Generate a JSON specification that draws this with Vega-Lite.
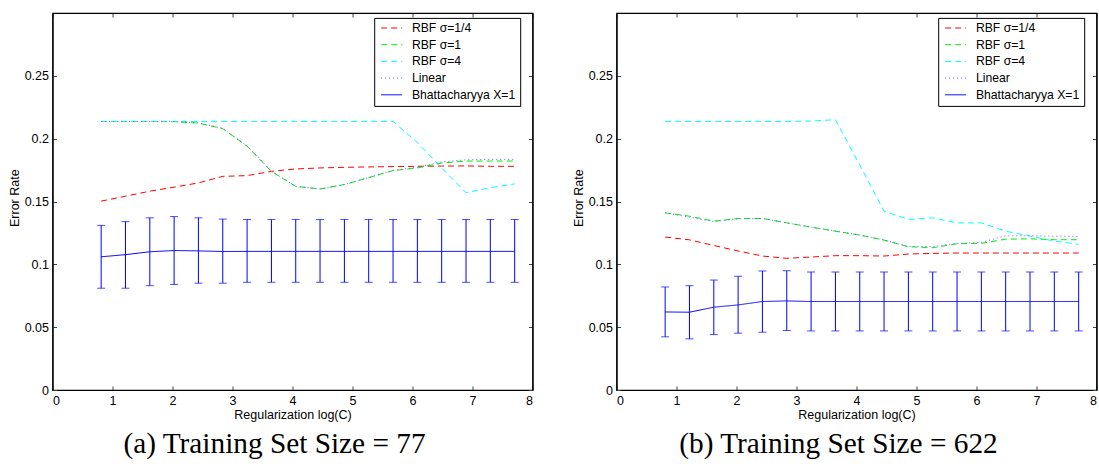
{
  "$schema": "https://vega.github.io/schema/vega-lite/v6.json",
  "padding": {"left": 7.5, "top": 11, "right": 0, "bottom": 0},
  "spacing": 37,
  "config": {
    "font": "Liberation Sans",
    "view": {"stroke": "black", "strokeWidth": 1.2},
    "axis": {
      "labelFont": "Liberation Sans", "labelFontSize": 12.5, "labelColor": "black",
      "titleFont": "Liberation Sans", "titleFontSize": 12.5, "titleFontWeight": "normal", "titleColor": "black",
      "domainColor": "black", "domainWidth": 1.2, "tickColor": "#444444", "tickSize": -4, "labelPadding": 8, "grid": false
    },
    "legend": {
      "title": null, "orient": "none", "legendX": 321.7, "legendY": 4.9,
      "symbolType": "M-0.6,0H3.4", "symbolSize": 110, "symbolStrokeWidth": 1,
      "labelFont": "Liberation Sans", "labelFontSize": 12.2, "labelColor": "black", "labelOffset": 21.5,
      "strokeColor": "black", "fillColor": "white", "padding": 4, "rowPadding": 3.7, "labelLimit": 300
    },
    "title": {"font": "Liberation Serif", "fontSize": 29.3, "fontWeight": "normal", "color": "black", "orient": "bottom", "anchor": "middle", "frame": "group", "dx": -18, "offset": 9}
  },
  "datasets": {
    "a": [
      {"x": 0.811, "RBF σ=1/4": 0.1503, "RBF σ=1": 0.2137, "RBF σ=4": 0.2137, "Linear": 0.2137, "Bhattacharyya X=1": 0.1060, "lo": 0.0810, "hi": 0.1310},
      {"x": 1.216, "RBF σ=1/4": 0.1542, "RBF σ=1": 0.2137, "RBF σ=4": 0.2137, "Linear": 0.2137, "Bhattacharyya X=1": 0.1077, "lo": 0.0810, "hi": 0.1340},
      {"x": 1.622, "RBF σ=1/4": 0.1582, "RBF σ=1": 0.2137, "RBF σ=4": 0.2137, "Linear": 0.2137, "Bhattacharyya X=1": 0.1100, "lo": 0.0830, "hi": 0.1370},
      {"x": 2.027, "RBF σ=1/4": 0.1614, "RBF σ=1": 0.2135, "RBF σ=4": 0.2137, "Linear": 0.2137, "Bhattacharyya X=1": 0.1110, "lo": 0.0840, "hi": 0.1380},
      {"x": 2.432, "RBF σ=1/4": 0.1648, "RBF σ=1": 0.2124, "RBF σ=4": 0.2137, "Linear": 0.2126, "Bhattacharyya X=1": 0.1107, "lo": 0.0850, "hi": 0.1370},
      {"x": 2.838, "RBF σ=1/4": 0.1700, "RBF σ=1": 0.2080, "RBF σ=4": 0.2137, "Linear": 0.2082, "Bhattacharyya X=1": 0.1102, "lo": 0.0850, "hi": 0.1360},
      {"x": 3.243, "RBF σ=1/4": 0.1706, "RBF σ=1": 0.1940, "RBF σ=4": 0.2137, "Linear": 0.1942, "Bhattacharyya X=1": 0.1103, "lo": 0.0857, "hi": 0.1357},
      {"x": 3.649, "RBF σ=1/4": 0.1740, "RBF σ=1": 0.1740, "RBF σ=4": 0.2137, "Linear": 0.1742, "Bhattacharyya X=1": 0.1103, "lo": 0.0857, "hi": 0.1357},
      {"x": 4.054, "RBF σ=1/4": 0.1759, "RBF σ=1": 0.1620, "RBF σ=4": 0.2137, "Linear": 0.1620, "Bhattacharyya X=1": 0.1103, "lo": 0.0857, "hi": 0.1357},
      {"x": 4.459, "RBF σ=1/4": 0.1767, "RBF σ=1": 0.1600, "RBF σ=4": 0.2137, "Linear": 0.1600, "Bhattacharyya X=1": 0.1103, "lo": 0.0857, "hi": 0.1357},
      {"x": 4.865, "RBF σ=1/4": 0.1772, "RBF σ=1": 0.1635, "RBF σ=4": 0.2137, "Linear": 0.1635, "Bhattacharyya X=1": 0.1103, "lo": 0.0857, "hi": 0.1357},
      {"x": 5.270, "RBF σ=1/4": 0.1775, "RBF σ=1": 0.1690, "RBF σ=4": 0.2137, "Linear": 0.1690, "Bhattacharyya X=1": 0.1103, "lo": 0.0857, "hi": 0.1357},
      {"x": 5.676, "RBF σ=1/4": 0.1778, "RBF σ=1": 0.1746, "RBF σ=4": 0.2137, "Linear": 0.1748, "Bhattacharyya X=1": 0.1103, "lo": 0.0857, "hi": 0.1357},
      {"x": 6.081, "RBF σ=1/4": 0.1780, "RBF σ=1": 0.1767, "RBF σ=4": 0.1970, "Linear": 0.1772, "Bhattacharyya X=1": 0.1103, "lo": 0.0857, "hi": 0.1357},
      {"x": 6.486, "RBF σ=1/4": 0.1782, "RBF σ=1": 0.1806, "RBF σ=4": 0.1767, "Linear": 0.1815, "Bhattacharyya X=1": 0.1103, "lo": 0.0857, "hi": 0.1357},
      {"x": 6.892, "RBF σ=1/4": 0.1783, "RBF σ=1": 0.1822, "RBF σ=4": 0.1570, "Linear": 0.1832, "Bhattacharyya X=1": 0.1103, "lo": 0.0857, "hi": 0.1357},
      {"x": 7.297, "RBF σ=1/4": 0.1780, "RBF σ=1": 0.1822, "RBF σ=4": 0.1610, "Linear": 0.1835, "Bhattacharyya X=1": 0.1103, "lo": 0.0857, "hi": 0.1357},
      {"x": 7.703, "RBF σ=1/4": 0.1780, "RBF σ=1": 0.1822, "RBF σ=4": 0.1640, "Linear": 0.1835, "Bhattacharyya X=1": 0.1103, "lo": 0.0857, "hi": 0.1357}
    ],
    "b": [
      {"x": 0.811, "RBF σ=1/4": 0.1217, "RBF σ=1": 0.1410, "RBF σ=4": 0.2137, "Linear": 0.1410, "Bhattacharyya X=1": 0.0621, "lo": 0.0423, "hi": 0.0820},
      {"x": 1.216, "RBF σ=1/4": 0.1195, "RBF σ=1": 0.1383, "RBF σ=4": 0.2137, "Linear": 0.1375, "Bhattacharyya X=1": 0.0619, "lo": 0.0407, "hi": 0.0830},
      {"x": 1.622, "RBF σ=1/4": 0.1150, "RBF σ=1": 0.1344, "RBF σ=4": 0.2137, "Linear": 0.1340, "Bhattacharyya X=1": 0.0659, "lo": 0.0441, "hi": 0.0875},
      {"x": 2.027, "RBF σ=1/4": 0.1106, "RBF σ=1": 0.1365, "RBF σ=4": 0.2137, "Linear": 0.1362, "Bhattacharyya X=1": 0.0677, "lo": 0.0452, "hi": 0.0905},
      {"x": 2.432, "RBF σ=1/4": 0.1066, "RBF σ=1": 0.1365, "RBF σ=4": 0.2137, "Linear": 0.1365, "Bhattacharyya X=1": 0.0704, "lo": 0.0460, "hi": 0.0947},
      {"x": 2.838, "RBF σ=1/4": 0.1048, "RBF σ=1": 0.1330, "RBF σ=4": 0.2137, "Linear": 0.1330, "Bhattacharyya X=1": 0.0709, "lo": 0.0473, "hi": 0.0949},
      {"x": 3.243, "RBF σ=1/4": 0.1058, "RBF σ=1": 0.1296, "RBF σ=4": 0.2140, "Linear": 0.1296, "Bhattacharyya X=1": 0.0704, "lo": 0.0470, "hi": 0.0939},
      {"x": 3.649, "RBF σ=1/4": 0.1069, "RBF σ=1": 0.1264, "RBF σ=4": 0.2151, "Linear": 0.1264, "Bhattacharyya X=1": 0.0704, "lo": 0.0470, "hi": 0.0939},
      {"x": 4.054, "RBF σ=1/4": 0.1069, "RBF σ=1": 0.1233, "RBF σ=4": 0.1790, "Linear": 0.1233, "Bhattacharyya X=1": 0.0704, "lo": 0.0470, "hi": 0.0939},
      {"x": 4.459, "RBF σ=1/4": 0.1066, "RBF σ=1": 0.1193, "RBF σ=4": 0.1423, "Linear": 0.1193, "Bhattacharyya X=1": 0.0704, "lo": 0.0470, "hi": 0.0939},
      {"x": 4.865, "RBF σ=1/4": 0.1082, "RBF σ=1": 0.1140, "RBF σ=4": 0.1357, "Linear": 0.1142, "Bhattacharyya X=1": 0.0704, "lo": 0.0470, "hi": 0.0939},
      {"x": 5.270, "RBF σ=1/4": 0.1087, "RBF σ=1": 0.1132, "RBF σ=4": 0.1370, "Linear": 0.1142, "Bhattacharyya X=1": 0.0704, "lo": 0.0470, "hi": 0.0939},
      {"x": 5.676, "RBF σ=1/4": 0.1090, "RBF σ=1": 0.1164, "RBF σ=4": 0.1330, "Linear": 0.1166, "Bhattacharyya X=1": 0.0704, "lo": 0.0470, "hi": 0.0939},
      {"x": 6.081, "RBF σ=1/4": 0.1090, "RBF σ=1": 0.1167, "RBF σ=4": 0.1330, "Linear": 0.1175, "Bhattacharyya X=1": 0.0704, "lo": 0.0470, "hi": 0.0939},
      {"x": 6.486, "RBF σ=1/4": 0.1090, "RBF σ=1": 0.1200, "RBF σ=4": 0.1264, "Linear": 0.1227, "Bhattacharyya X=1": 0.0704, "lo": 0.0470, "hi": 0.0939},
      {"x": 6.892, "RBF σ=1/4": 0.1090, "RBF σ=1": 0.1203, "RBF σ=4": 0.1225, "Linear": 0.1227, "Bhattacharyya X=1": 0.0704, "lo": 0.0470, "hi": 0.0939},
      {"x": 7.297, "RBF σ=1/4": 0.1090, "RBF σ=1": 0.1196, "RBF σ=4": 0.1185, "Linear": 0.1224, "Bhattacharyya X=1": 0.0704, "lo": 0.0470, "hi": 0.0939},
      {"x": 7.703, "RBF σ=1/4": 0.1090, "RBF σ=1": 0.1196, "RBF σ=4": 0.1159, "Linear": 0.1222, "Bhattacharyya X=1": 0.0704, "lo": 0.0470, "hi": 0.0939}
    ]
  },
  "resolve": {"scale": {"color": "independent", "strokeDash": "independent"}},
  "hconcat": [
    {
      "width": 480, "height": 377,
      "data": {"name": "a"},
      "title": {"text": "(a) Training Set Size = 77"},
      "resolve": {"axis": {"x": "independent", "y": "independent"}},
      "layer": [
        {
          "transform": [{"fold": ["RBF σ=1/4", "RBF σ=1", "RBF σ=4", "Linear", "Bhattacharyya X=1"], "as": ["series", "y"]}],
          "mark": {"type": "line", "strokeWidth": 1},
          "encoding": {
            "x": {"field": "x", "type": "quantitative", "scale": {"domain": [0, 8], "nice": false}, "axis": {"orient": "bottom", "title": "Regularization log(C)", "values": [0, 1, 2, 3, 4, 5, 6, 7, 8], "titlePadding": 2}},
            "y": {"field": "y", "type": "quantitative", "scale": {"domain": [0, 0.3], "nice": false}, "axis": {"orient": "left", "title": "Error Rate", "values": [0, 0.05, 0.1, 0.15, 0.2, 0.25], "format": "~g", "titleX": -31.3, "titleY": 184.7}},
            "color": {"field": "series", "type": "nominal",
              "scale": {"domain": ["RBF σ=1/4", "RBF σ=1", "RBF σ=4", "Linear", "Bhattacharyya X=1"], "range": ["#ff0000", "#00ee00", "#00ffff", "#6060ff", "#0000ff"]}},
            "strokeDash": {"field": "series", "type": "nominal",
              "scale": {"domain": ["RBF σ=1/4", "RBF σ=1", "RBF σ=4", "Linear", "Bhattacharyya X=1"], "range": [[6, 4], [6, 4], [6, 4], [1, 3], [1, 0]]}}
          }
        },
        {
          "mark": {"type": "errorbar", "ticks": {"size": 8}, "color": "#0000ff", "thickness": 1},
          "encoding": {
            "x": {"field": "x", "type": "quantitative", "axis": {"orient": "top", "labels": false, "title": null, "values": [0, 1, 2, 3, 4, 5, 6, 7, 8]}},
            "y": {"field": "lo", "type": "quantitative", "axis": {"orient": "right", "labels": false, "title": null, "values": [0, 0.05, 0.1, 0.15, 0.2, 0.25]}},
            "y2": {"field": "hi"}
          }
        }
      ]
    },
    {
      "width": 480, "height": 377,
      "data": {"name": "b"},
      "title": {"text": "(b) Training Set Size = 622"},
      "resolve": {"axis": {"x": "independent", "y": "independent"}},
      "layer": [
        {
          "transform": [{"fold": ["RBF σ=1/4", "RBF σ=1", "RBF σ=4", "Linear", "Bhattacharyya X=1"], "as": ["series", "y"]}],
          "mark": {"type": "line", "strokeWidth": 1},
          "encoding": {
            "x": {"field": "x", "type": "quantitative", "scale": {"domain": [0, 8], "nice": false}, "axis": {"orient": "bottom", "title": "Regularization log(C)", "values": [0, 1, 2, 3, 4, 5, 6, 7, 8], "titlePadding": 2}},
            "y": {"field": "y", "type": "quantitative", "scale": {"domain": [0, 0.3], "nice": false}, "axis": {"orient": "left", "title": "Error Rate", "values": [0, 0.05, 0.1, 0.15, 0.2, 0.25], "format": "~g", "titleX": -31.3, "titleY": 184.7}},
            "color": {"field": "series", "type": "nominal",
              "scale": {"domain": ["RBF σ=1/4", "RBF σ=1", "RBF σ=4", "Linear", "Bhattacharyya X=1"], "range": ["#ff0000", "#00ee00", "#00ffff", "#6060ff", "#0000ff"]}},
            "strokeDash": {"field": "series", "type": "nominal",
              "scale": {"domain": ["RBF σ=1/4", "RBF σ=1", "RBF σ=4", "Linear", "Bhattacharyya X=1"], "range": [[6, 4], [6, 4], [6, 4], [1, 3], [1, 0]]}}
          }
        },
        {
          "mark": {"type": "errorbar", "ticks": {"size": 8}, "color": "#0000ff", "thickness": 1},
          "encoding": {
            "x": {"field": "x", "type": "quantitative", "axis": {"orient": "top", "labels": false, "title": null, "values": [0, 1, 2, 3, 4, 5, 6, 7, 8]}},
            "y": {"field": "lo", "type": "quantitative", "axis": {"orient": "right", "labels": false, "title": null, "values": [0, 0.05, 0.1, 0.15, 0.2, 0.25]}},
            "y2": {"field": "hi"}
          }
        }
      ]
    }
  ]
}
